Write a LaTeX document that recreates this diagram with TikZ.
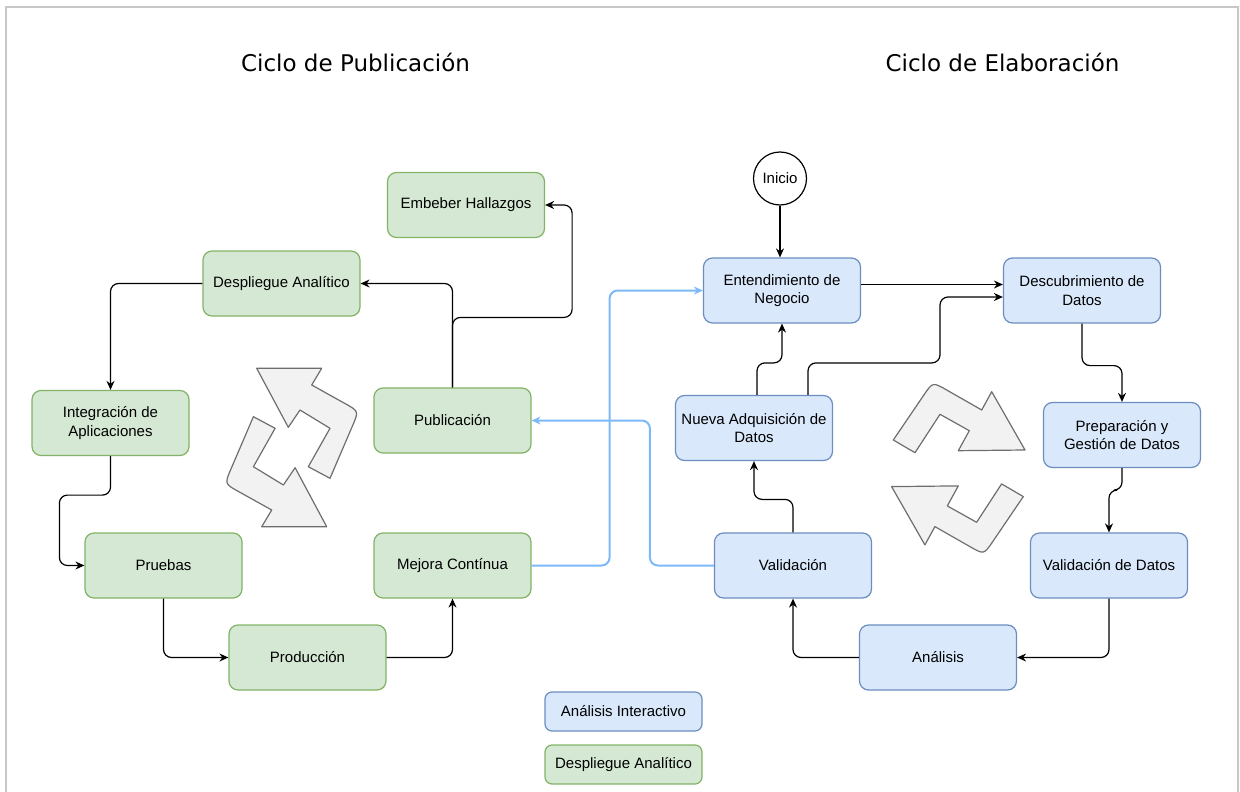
\documentclass[tikz,border=0pt]{standalone}
\usepackage{fontspec}
\setmainfont{Liberation Sans}
\newfontfamily\titlefont{DejaVu Sans}
\usetikzlibrary{arrows.meta,calc}
\definecolor{grnfill}{RGB}{213,232,212}
\definecolor{grnline}{RGB}{130,179,102}
\definecolor{blufill}{RGB}{218,232,252}
\definecolor{bluline}{RGB}{108,142,191}
\definecolor{linkblue}{RGB}{125,185,248}
\definecolor{cycfill}{RGB}{242,242,242}
\definecolor{cycline}{RGB}{110,110,110}
\definecolor{framecol}{RGB}{200,200,200}
\begin{document}
\begin{tikzpicture}[x=1pt,y=-1pt,
  box/.style={rounded corners=9pt,line width=1.2pt,minimum width=157pt,minimum height=65pt,
    align=center,inner sep=2pt,font=\fontsize{15}{18.5}\selectfont},
  gbox/.style={box,fill=grnfill,draw=grnline},
  bbox/.style={box,fill=blufill,draw=bluline},
  key/.style={minimum height=39pt,rounded corners=7pt},
  flow/.style={-{Stealth[length=9pt,width=8pt]},rounded corners=8pt,line width=1.2pt},
  back/.style={flow,draw=linkblue,line width=2pt},
  cyc/.style={fill=cycfill,draw=cycline,line width=1.2pt,line join=round}]
  \useasboundingbox (0,0) rectangle (1240,792);
  \draw[framecol,line width=1.5pt] (6,792) -- (6,7) -- (1238,7) -- (1238,792);
  \node[font=\titlefont\fontsize{23}{26}\selectfont] (tpub) at (355.5,62) {Ciclo de Publicación};
  \node[font=\titlefont\fontsize{23}{26}\selectfont] (tela) at (1002.5,62) {Ciclo de Elaboración};
  \node[gbox] (emb) at (466,205) {Embeber Hallazgos};
  \node[gbox] (desp) at (281.5,283.5) {Despliegue Analítico};
  \node[gbox] (pub) at (452.5,420.5) {Publicación};
  \node[gbox] (integ) at (110.5,423) {Integración de\\Aplicaciones};
  \node[gbox] (pru) at (163.5,565.5) {Pruebas};
  \node[gbox] (mej) at (452.5,565.5) {Mejora Contínua};
  \node[gbox] (prod) at (307.5,657.5) {Producción};
  \node[draw,circle,line width=1.2pt,minimum size=53pt,inner sep=0pt,font=\fontsize{15}{18}\selectfont] (ini) at (780,178.5) {Inicio};
  \node[bbox] (ent) at (782,290.5) {Entendimiento de\\Negocio};
  \node[bbox] (desc) at (1082,290.5) {Descubrimiento de\\Datos};
  \node[bbox] (nueva) at (754,428) {Nueva Adquisición de\\Datos};
  \node[bbox] (prep) at (1122,435) {Preparación y\\Gestión de Datos};
  \node[bbox] (val) at (793,565.5) {Validación};
  \node[bbox] (valdat) at (1109,565.5) {Validación de Datos};
  \node[bbox] (ana) at (938,657.5) {Análisis};
  \node[bbox,key] (kblu) at (623.5,711.5) {Análisis Interactivo};
  \node[gbox,key] (kgrn) at (623.5,764.5) {Despliegue Analítico};
  \foreach \a in {0,180}
    \path[cyc,rotate around={\a:(291.7,447.5)}] (256.7,368.3) -- (321.7,368.3) -- (311.7,385)
      -- ($(358.8,411.2)!16pt!(311.7,385)$) .. controls (358.8,411.2) .. ($(358.8,411.2)!16pt!(330,478.3)$)
      -- (330,478.3) -- (308.3,466.7) -- (330,428.3) -- (300,410) -- (288.3,427.3) -- cycle;
  \foreach \a in {0,180}
    \path[cyc,rotate around={\a:(958.3,468.3)}] (1025,450) -- (991.7,391.7) -- (981.7,410)
      -- ($(932.7,382)!16pt!(981.7,410)$) .. controls (932.7,382) .. ($(932.7,382)!16pt!(893.3,440)$)
      -- (893.3,440) -- (915,452.7) -- (940,414.3) -- (969.3,430.7) -- (958.3,450.7) -- cycle;
  \draw[flow] (pub.north) |- (desp.east);
  \draw[flow] (pub.north) -- ++(0,-70) -| ([xshift=27pt]emb.east) -- (emb.east);
  \draw[flow] (desp.west) -| (integ.north);
  \draw[flow] (integ.south) -- ++(0,39) -| ([xshift=-25pt]pru.west) -- (pru.west);
  \draw[flow] (pru.south) |- (prod.west);
  \draw[flow] (prod.east) -| (mej.south);
  \draw[back] (mej.east) -- ++(78,0) |- (ent.west);
  \draw[back] (val.west) -- ++(-64,0) |- (pub.east);
  \draw[flow] (ini) -- (ini |- ent.north);
  \draw[flow] ([yshift=6pt]ent.east) -- ([yshift=6pt]desc.west);
  \draw[flow] ([xshift=54pt]nueva.north) -- ++(0,-32) -- ++(132,0) |- ([yshift=-6.5pt]desc.west);
  \draw[flow] ([xshift=3pt]nueva.north) -- ++(0,-32) -| (ent.south);
  \draw[flow] (val.north) -- ++(0,-33) -| (nueva.south);
  \draw[flow] (desc.south) -- ++(0,42) -| (prep.north);
  \draw[flow] (prep.south) -- ++(0,22) -| (valdat.north);
  \draw[flow] (valdat.south) |- (ana.east);
  \draw[flow] (ana.west) -| (val.south);
\end{tikzpicture}
\end{document}
